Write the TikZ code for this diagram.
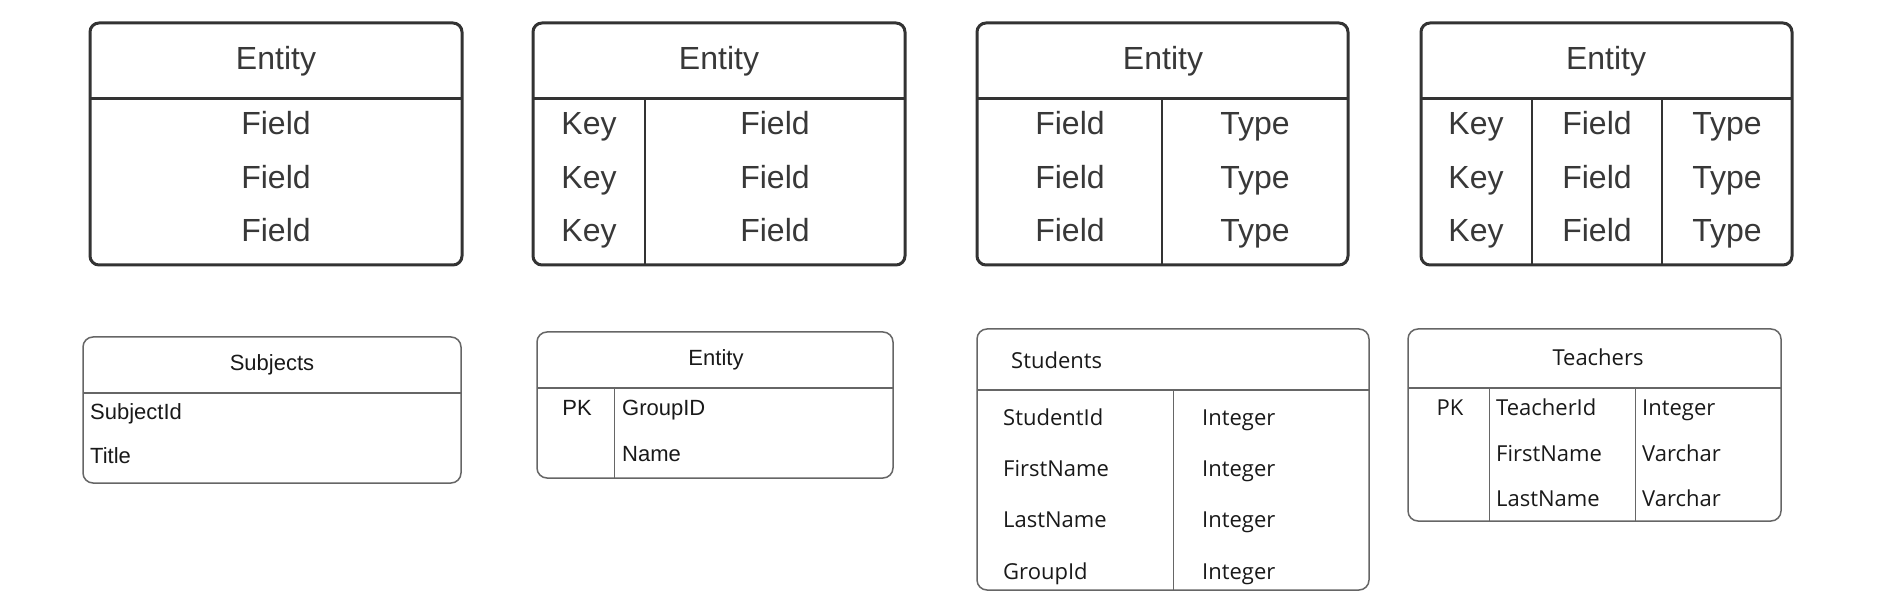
\documentclass[tikz,border=0pt]{standalone}
\usepackage{fontspec}
\setmainfont{Liberation Sans}
\newfontfamily\humsans{Open Sans}

\tikzset{
    bigbox/.style={draw=black!80,line width=3pt,rounded corners=9pt},
    bigrule/.style={draw=black!80,line width=3pt},
    bigtxt/.style={text=black!78,font=\fontsize{32}{38}\selectfont,
        text height=23pt,text depth=0pt,inner sep=0pt},
    smallbox/.style={draw=black!60,line width=1.5pt,rounded corners=10pt},
    smallrule/.style={draw=black!60,line width=1.5pt},
    smalltxt/.style={text=black!90,font=\fontsize{22}{26}\selectfont,
        text height=16pt,text depth=0pt,inner sep=0pt},
    humtxt/.style={text=black!90,font=\humsans\fontsize{22}{26}\selectfont,
        text height=16pt,text depth=0pt,inner sep=0pt},
}

\begin{document}
\begin{tikzpicture}[x=1pt,y=-1pt]

    \useasboundingbox (0,0) rectangle (1885,593);

    % entity with fields only
    \draw[bigbox] (90,23) rectangle (462,265);
    \draw[bigrule] (90,99) -- (462,99);
    \node[bigtxt] (eA) at (276,58) {Entity};
    \node[bigtxt] (eAf1) at (276,123) {Field};
    \node[bigtxt] (eAf2) at (276,177) {Field};
    \node[bigtxt] (eAf3) at (276,230) {Field};

    %%%%%%%%%%%%%%%%%%%%%%%%%%%%%%%%%%%%%%%%%%%%%%%%%%%%%%

    % entity with keys and fields
    \draw[bigbox] (533,23) rectangle (905,265);
    \draw[bigrule] (533,99) -- (905,99);
    \draw[bigrule,line width=2.5pt] (645,99) -- (645,265);
    \node[bigtxt] (eB) at (719,58) {Entity};
    \node[bigtxt] (eBk1) at (589,123) {Key};
    \node[bigtxt] (eBk2) at (589,177) {Key};
    \node[bigtxt] (eBk3) at (589,230) {Key};
    \node[bigtxt] (eBf1) at (775,123) {Field};
    \node[bigtxt] (eBf2) at (775,177) {Field};
    \node[bigtxt] (eBf3) at (775,230) {Field};

    %%%%%%%%%%%%%%%%%%%%%%%%%%%%%%%%%%%%%%%%%%%%%%%%%%%%%%

    % entity with fields and types
    \draw[bigbox] (977,23) rectangle (1348,265);
    \draw[bigrule] (977,99) -- (1348,99);
    \draw[bigrule,line width=2.5pt] (1162,99) -- (1162,265);
    \node[bigtxt] (eC) at (1163,58) {Entity};
    \node[bigtxt] (eCf1) at (1070,123) {Field};
    \node[bigtxt] (eCf2) at (1070,177) {Field};
    \node[bigtxt] (eCf3) at (1070,230) {Field};
    \node[bigtxt] (eCt1) at (1255,123) {Type};
    \node[bigtxt] (eCt2) at (1255,177) {Type};
    \node[bigtxt] (eCt3) at (1255,230) {Type};

    %%%%%%%%%%%%%%%%%%%%%%%%%%%%%%%%%%%%%%%%%%%%%%%%%%%%%%

    % entity with keys, fields and types
    \draw[bigbox] (1421,23) rectangle (1792,265);
    \draw[bigrule] (1421,99) -- (1792,99);
    \draw[bigrule,line width=2.5pt] (1532,99) -- (1532,265);
    \draw[bigrule,line width=2.5pt] (1662,99) -- (1662,265);
    \node[bigtxt] (eD) at (1606,58) {Entity};
    \node[bigtxt] (eDk1) at (1476,123) {Key};
    \node[bigtxt] (eDk2) at (1476,177) {Key};
    \node[bigtxt] (eDk3) at (1476,230) {Key};
    \node[bigtxt] (eDf1) at (1597,123) {Field};
    \node[bigtxt] (eDf2) at (1597,177) {Field};
    \node[bigtxt] (eDf3) at (1597,230) {Field};
    \node[bigtxt] (eDt1) at (1727,123) {Type};
    \node[bigtxt] (eDt2) at (1727,177) {Type};
    \node[bigtxt] (eDt3) at (1727,230) {Type};

    %%%%%%%%%%%%%%%%%%%%%%%%%%%%%%%%%%%%%%%%%%%%%%%%%%%%%%

    % subjects table
    \draw[smallbox] (83,337) rectangle (461,483);
    \draw[smallrule,line width=2pt] (83,393) -- (461,393);
    \node[smalltxt] (subj) at (272,363) {Subjects};
    \node[smalltxt,anchor=west] (subjId) at (90,412) {SubjectId};
    \node[smalltxt,anchor=west] (subjTitle) at (90,456) {Title};

    % groups table
    \draw[smallbox] (537,332) rectangle (893,478);
    \draw[smallrule] (537,388) -- (893,388);
    \draw[smallrule,line width=1pt] (614,388) -- (614,478);
    \node[smalltxt] (grp) at (716,358) {Entity};
    \node[smalltxt] (grpPK) at (577,408) {PK};
    \node[smalltxt,anchor=west] (grpId) at (622,408) {GroupID};
    \node[smalltxt,anchor=west] (grpName) at (622,453) {Name};

    %%%%%%%%%%%%%%%%%%%%%%%%%%%%%%%%%%%%%%%%%%%%%%%%%%%%%%

    % students table
    \draw[smallbox] (977,329) rectangle (1369,590);
    \draw[smallrule] (977,390) -- (1369,390);
    \draw[smallrule,line width=1pt] (1173,390) -- (1173,590);
    \node[humtxt,anchor=west] (stud) at (1011,361) {Students};
    \node[humtxt,anchor=west] (studId) at (1003,417) {StudentId};
    \node[humtxt,anchor=west] (studFirst) at (1003,468) {FirstName};
    \node[humtxt,anchor=west] (studLast) at (1003,519) {LastName};
    \node[humtxt,anchor=west] (studGrp) at (1003,571) {GroupId};
    \node[humtxt,anchor=west] (studT1) at (1202,417) {Integer};
    \node[humtxt,anchor=west] (studT2) at (1202,468) {Integer};
    \node[humtxt,anchor=west] (studT3) at (1202,519) {Integer};
    \node[humtxt,anchor=west] (studT4) at (1202,571) {Integer};

    % teachers table
    \draw[smallbox] (1408,329) rectangle (1781,521);
    \draw[smallrule] (1408,388) -- (1781,388);
    \draw[smallrule,line width=1pt] (1489,388) -- (1489,521);
    \draw[smallrule,line width=1pt] (1635,388) -- (1635,521);
    \node[humtxt] (teach) at (1598,358) {Teachers};
    \node[humtxt] (teachPK) at (1450,408) {PK};
    \node[humtxt,anchor=west] (teachId) at (1496,408) {TeacherId};
    \node[humtxt,anchor=west] (teachFirst) at (1496,453) {FirstName};
    \node[humtxt,anchor=west] (teachLast) at (1496,498) {LastName};
    \node[humtxt,anchor=west] (teachT1) at (1642,408) {Integer};
    \node[humtxt,anchor=west] (teachT2) at (1642,453) {Varchar};
    \node[humtxt,anchor=west] (teachT3) at (1642,498) {Varchar};

\end{tikzpicture}
\end{document}
